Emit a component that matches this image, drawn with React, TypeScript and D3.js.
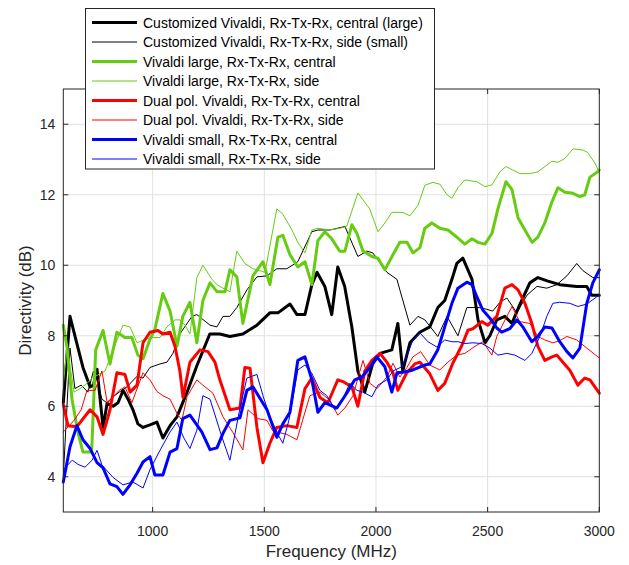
import React from 'react';
import * as d3 from 'd3';

type Pt = [number, number];

// frequency (MHz), directivity (dB)
const customCentral: Pt[] = [
  [600, 6.1], [630, 8.55], [666, 7.65], [688, 7.1], [720, 6.55], [735, 6.6], [751, 7.05], [778, 5.4],
  [796, 6.08], [823, 6.0], [845, 6.1], [868, 6.45], [890, 6.2], [912, 5.9], [934, 5.5], [957, 5.4],
  [988, 5.47], [1019, 5.55], [1046, 5.1], [1078, 5.45], [1109, 5.7], [1154, 6.4], [1198, 7.15],
  [1256, 8.05], [1301, 8.05], [1346, 7.98], [1404, 8.05], [1467, 8.3], [1525, 8.65], [1561, 8.65],
  [1615, 8.9], [1646, 8.6], [1682, 8.6], [1713, 9.45], [1736, 9.8], [1771, 9.4], [1802, 8.6],
  [1829, 9.95], [1860, 9.4], [1892, 8.25], [1919, 7.0], [1950, 6.4], [1985, 7.2], [2018, 7.5],
  [2071, 7.6], [2098, 8.35], [2120, 7.0], [2152, 7.8], [2196, 8.1], [2241, 8.25], [2277, 8.8],
  [2308, 9.0], [2340, 9.6], [2362, 10.05], [2389, 10.2], [2430, 9.6], [2457, 8.45], [2488, 7.8],
  [2510, 8.0], [2541, 8.45], [2577, 8.55], [2609, 8.35], [2645, 8.9], [2689, 9.5], [2725, 9.65],
  [2770, 9.55], [2823, 9.45], [2899, 9.4], [2944, 9.4], [2966, 9.15], [3000, 9.15],
];

const customSide: Pt[] = [
  [600, 4.0], [630, 7.65], [652, 6.5], [680, 6.6], [710, 6.4], [735, 7.0], [751, 6.75], [773, 6.2],
  [795, 6.1], [820, 6.25], [850, 6.4], [885, 6.55], [930, 6.85], [957, 6.8], [988, 7.1], [1033, 7.2],
  [1064, 7.25], [1091, 7.5], [1122, 8.05], [1176, 8.55], [1198, 8.6], [1257, 8.3], [1288, 8.25],
  [1315, 8.55], [1346, 8.55], [1377, 8.8], [1422, 9.3], [1467, 9.67], [1512, 9.7], [1556, 9.9],
  [1601, 9.9], [1650, 10.1], [1713, 10.95], [1740, 11.0], [1794, 11.0], [1861, 11.1], [1919, 10.25],
  [1959, 10.4], [1986, 10.35], [2049, 9.8], [2094, 9.6], [2107, 9.3], [2152, 8.3], [2188, 8.55],
  [2219, 8.45], [2277, 7.98], [2318, 8.55], [2367, 8.0], [2407, 8.8], [2465, 8.8], [2496, 8.75],
  [2523, 8.7], [2555, 8.95], [2586, 9.07], [2631, 8.65], [2676, 9.15], [2721, 9.4], [2765, 9.35],
  [2810, 9.45], [2855, 9.7], [2899, 10.05], [2926, 9.85], [2971, 9.65], [3000, 9.65],
];

const largeCentral: Pt[] = [
  [600, 8.3], [617, 7.65], [639, 6.2], [666, 5.25], [688, 4.7], [727, 4.7], [745, 7.6], [778, 8.15],
  [809, 7.2], [840, 8.1], [876, 7.95], [907, 7.95], [934, 7.45], [957, 7.35], [988, 7.9], [1010, 8.18],
  [1046, 9.2], [1078, 8.7], [1109, 7.7], [1135, 8.55], [1167, 8.95], [1198, 7.8], [1225, 9.0],
  [1257, 9.5], [1288, 9.25], [1324, 9.25], [1346, 9.87], [1377, 9.67], [1404, 8.35], [1449, 9.7],
  [1494, 10.1], [1525, 9.45], [1561, 10.8], [1583, 10.85], [1615, 10.3], [1650, 9.95], [1682, 10.1],
  [1713, 9.45], [1740, 10.7], [1771, 10.95], [1802, 10.75], [1838, 10.4], [1861, 10.4], [1892, 11.15],
  [1915, 10.9], [1942, 10.4], [1982, 10.25], [2009, 10.2], [2040, 9.87], [2076, 10.3], [2107, 10.65],
  [2139, 10.65], [2166, 10.35], [2197, 10.5], [2219, 11.05], [2250, 11.2], [2286, 11.05], [2322, 11.0],
  [2362, 10.8], [2398, 10.6], [2430, 10.75], [2457, 10.65], [2488, 10.6], [2519, 10.9], [2546, 11.6],
  [2582, 12.37], [2609, 12.15], [2636, 11.35], [2676, 10.9], [2699, 10.65], [2725, 10.8], [2756, 11.2],
  [2788, 11.8], [2815, 12.2], [2846, 12.07], [2877, 12.05], [2913, 11.95], [2935, 12.0], [2958, 12.5],
  [2993, 12.65], [3000, 12.7],
];

const largeSide: Pt[] = [
  [600, 6.6], [617, 7.7], [648, 6.4], [675, 6.5], [706, 6.65], [729, 6.8], [787, 7.0], [823, 7.6],
  [867, 8.3], [899, 8.25], [930, 7.8], [966, 7.9], [997, 7.95], [1033, 7.95], [1064, 8.25], [1100, 8.45],
  [1122, 8.45], [1145, 8.3], [1167, 8.05], [1198, 9.65], [1225, 10.0], [1266, 9.6], [1288, 9.45],
  [1315, 9.35], [1346, 9.25], [1377, 10.4], [1413, 10.05], [1449, 9.9], [1480, 9.85], [1503, 9.8],
  [1556, 11.6], [1583, 11.45], [1624, 11.0], [1650, 10.65], [1682, 10.35], [1713, 11.0], [1740, 11.05],
  [1794, 11.0], [1838, 11.05], [1869, 11.1], [1919, 12.05], [1972, 11.6], [2009, 10.95], [2040, 11.2],
  [2071, 11.5], [2121, 11.5], [2152, 11.4], [2188, 11.7], [2219, 12.27], [2255, 12.35], [2286, 12.3],
  [2318, 12.0], [2340, 11.9], [2367, 12.2], [2398, 12.42], [2452, 12.37], [2488, 12.23], [2519, 12.28],
  [2555, 12.65], [2582, 12.8], [2613, 12.7], [2644, 12.6], [2689, 12.6], [2725, 12.65], [2788, 12.95],
  [2815, 12.92], [2846, 13.03], [2882, 13.3], [2926, 13.27], [2948, 13.2], [2980, 12.9], [3000, 12.65],
];

const dualCentral: Pt[] = [
  [600, 6.05], [621, 5.45], [661, 5.42], [720, 5.9], [751, 5.7], [778, 5.2], [809, 5.9], [840, 6.95],
  [876, 6.9], [899, 6.4], [930, 6.6], [957, 7.8], [988, 8.1], [1024, 8.15], [1046, 8.05], [1078, 8.1],
  [1100, 7.7], [1122, 7.0], [1136, 6.25], [1167, 7.25], [1212, 7.6], [1248, 7.55], [1279, 7.25],
  [1301, 6.75], [1346, 5.9], [1391, 5.95], [1413, 7.1], [1436, 7.08], [1467, 5.4], [1494, 4.4],
  [1525, 4.95], [1556, 5.4], [1601, 5.45], [1646, 5.4], [1682, 6.5], [1713, 6.8], [1749, 6.25],
  [1785, 6.1], [1829, 6.75], [1852, 6.7], [1892, 6.55], [1919, 6.0], [1950, 7.0], [1982, 7.3],
  [2018, 7.5], [2049, 7.25], [2076, 6.95], [2098, 6.45], [2138, 6.95], [2174, 7.2], [2197, 7.25],
  [2241, 6.92], [2277, 6.45], [2308, 6.65], [2344, 7.22], [2385, 7.73], [2412, 8.16], [2434, 8.2],
  [2474, 8.4], [2501, 8.3], [2541, 8.55], [2577, 9.35], [2609, 9.45], [2636, 9.3], [2667, 8.92],
  [2698, 8.35], [2725, 7.7], [2756, 7.3], [2788, 7.4], [2810, 7.45], [2837, 7.25], [2868, 7.02],
  [2904, 6.6], [2935, 6.8], [2958, 6.75], [3000, 6.37],
];

const dualSide: Pt[] = [
  [600, 5.27], [648, 5.6], [680, 5.9], [706, 6.45], [742, 6.45], [773, 7.0], [797, 6.08], [850, 6.45],
  [876, 6.55], [907, 6.1], [957, 6.95], [988, 6.75], [1019, 6.42], [1046, 6.3], [1078, 6.2], [1109, 5.8],
  [1131, 5.6], [1154, 6.27], [1198, 6.75], [1225, 6.6], [1270, 6.37], [1315, 5.7], [1360, 5.25],
  [1404, 4.76], [1427, 5.9], [1471, 5.65], [1512, 5.6], [1538, 5.3], [1601, 5.2], [1646, 5.05],
  [1704, 6.3], [1749, 6.4], [1794, 6.17], [1829, 5.75], [1861, 5.95], [1897, 6.3], [1942, 7.3],
  [1973, 6.65], [2005, 6.5], [2049, 6.83], [2076, 7.22], [2107, 6.83], [2139, 7.1], [2165, 7.4],
  [2200, 7.55], [2241, 7.17], [2286, 7.03], [2322, 7.25], [2362, 7.45], [2398, 7.5], [2443, 7.7],
  [2479, 7.83], [2519, 7.45], [2541, 7.98], [2586, 8.55], [2609, 8.83], [2644, 8.4], [2689, 8.35],
  [2725, 7.98], [2756, 7.88], [2792, 7.8], [2820, 7.85], [2855, 7.98], [2899, 7.88], [2944, 7.65],
  [3000, 7.37],
];

const smallCentral: Pt[] = [
  [600, 3.85], [630, 4.85], [661, 5.45], [688, 5.05], [720, 4.8], [751, 4.4], [778, 4.25], [809, 3.8],
  [840, 3.72], [867, 3.5], [899, 3.77], [930, 4.1], [957, 4.42], [988, 4.57], [1010, 4.05], [1046, 4.05],
  [1078, 4.7], [1109, 4.8], [1135, 5.65], [1167, 5.75], [1220, 5.27], [1257, 4.77], [1288, 4.82],
  [1315, 5.23], [1346, 5.6], [1391, 5.67], [1422, 6.45], [1449, 6.55], [1512, 5.9], [1556, 5.12],
  [1583, 5.5], [1615, 5.83], [1650, 7.3], [1682, 7.4], [1713, 6.75], [1740, 5.83], [1771, 6.1],
  [1825, 5.95], [1869, 6.37], [1905, 6.75], [1937, 6.83], [1973, 7.1], [2004, 7.4], [2040, 7.12],
  [2071, 6.4], [2094, 6.95], [2129, 6.97], [2165, 7.03], [2219, 7.17], [2241, 7.2], [2277, 7.6],
  [2308, 8.25], [2340, 8.92], [2367, 9.35], [2407, 9.52], [2430, 9.45], [2452, 9.1], [2479, 8.72],
  [2510, 8.5], [2541, 8.22], [2563, 8.1], [2599, 8.2], [2631, 8.45], [2658, 8.25], [2698, 7.83],
  [2725, 7.98], [2756, 8.25], [2788, 8.22], [2823, 7.83], [2855, 7.55], [2882, 7.37], [2913, 7.65],
  [2944, 8.92], [2971, 9.5], [3000, 9.87],
];

const smallSide: Pt[] = [
  [600, 4.2], [640, 4.47], [666, 4.35], [697, 4.27], [729, 4.47], [751, 4.75], [773, 4.33], [823, 3.98],
  [867, 3.77], [912, 3.85], [957, 3.68], [988, 4.2], [1033, 4.75], [1078, 5.27], [1109, 5.55],
  [1140, 5.1], [1167, 4.8], [1198, 5.32], [1225, 6.3], [1257, 6.2], [1310, 5.13], [1346, 4.47],
  [1391, 5.95], [1422, 6.8], [1467, 6.9], [1494, 6.3], [1525, 5.7], [1561, 5.2], [1583, 4.95],
  [1610, 5.6], [1650, 7.03], [1682, 7.17], [1713, 6.93], [1749, 6.45], [1780, 6.3], [1816, 5.9],
  [1852, 6.22], [1883, 6.65], [1915, 6.45], [1942, 6.4], [1982, 6.27], [2009, 6.6], [2049, 6.75],
  [2076, 7.0], [2116, 7.12], [2143, 7.5], [2165, 7.87], [2197, 8.08], [2233, 7.83], [2273, 7.68],
  [2308, 7.88], [2340, 7.83], [2367, 7.83], [2398, 7.78], [2434, 7.8], [2474, 7.78], [2510, 7.65],
  [2546, 7.45], [2586, 7.5], [2622, 7.45], [2667, 7.3], [2698, 7.5], [2734, 7.98], [2765, 8.55],
  [2792, 8.92], [2823, 8.95], [2868, 8.92], [2904, 8.83], [2944, 8.9], [2988, 9.1], [3000, 9.15],
];

const seriesNames = [
  'Customized Vivaldi, Rx-Tx-Rx, central (large)',
  'Customized Vivaldi, Rx-Tx-Rx, side (small)',
  'Vivaldi large, Rx-Tx-Rx, central',
  'Vivaldi large, Rx-Tx-Rx, side',
  'Dual pol. Vivaldi, Rx-Tx-Rx, central',
  'Dual pol. Vivaldi, Rx-Tx-Rx, side',
  'Vivaldi small, Rx-Tx-Rx, central',
  'Vivaldi small, Rx-Tx-Rx, side',
];
const seriesData = [customCentral, customSide, largeCentral, largeSide, dualCentral, dualSide, smallCentral, smallSide];

const xTicks = [1000, 1500, 2000, 2500, 3000];
const yTicks = [4, 6, 8, 10, 12, 14];

const colors = ['#000000', '#000000', '#66cc11', '#66cc11', '#ff0000', '#ff0000', '#0000ff', '#0000ff'];
const widths = [3, 1, 3, 1, 3, 1, 3, 1];

const W = 629;
const H = 565;
const margin = { top: 89, right: 29.7, bottom: 53, left: 63.3 };
const FONT = '"Liberation Sans", Arial, Helvetica, sans-serif';
const AX = '#262626';

export default function App() {
  const x = d3.scaleLinear().domain([600, 3000]).range([margin.left, W - margin.right]);
  const y = d3.scaleLinear().domain([3, 15]).range([H - margin.bottom, margin.top]);
  const line = d3.line<Pt>().x((d) => x(d[0])).y((d) => y(d[1]));

  const [x0, x1] = x.range();
  const [y0, y1] = y.range();
  const tick = 5;

  // legend
  const lg = { x: 85.5, y: 8.5, w: 349, h: 160.5, row: 19.5 };

  return (
    <svg width={W} height={H} style={{ position: 'absolute', left: 0, top: 0, background: '#fff' }}
      fontFamily={FONT}>
      <rect x={0} y={0} width={W} height={H} fill="#fff" />

      {/* grid */}
      <g stroke="#e1e1e1" strokeWidth={1}>
        {xTicks.filter((t) => t < 3000).map((t) => (
          <line key={'gx' + t} x1={x(t)} x2={x(t)} y1={y0} y2={y1} />
        ))}
        {yTicks.map((t) => (
          <line key={'gy' + t} x1={x0} x2={x1} y1={y(t)} y2={y(t)} />
        ))}
      </g>

      {/* series */}
      <g fill="none" strokeLinejoin="round" strokeLinecap="round">
        {seriesData.map((d, i) => (
          <path key={i} d={line(d) || ''} stroke={colors[i]} strokeWidth={widths[i]} />
        ))}
      </g>

      {/* axes box and ticks */}
      <g stroke={AX} strokeWidth={1} fill="none">
        <rect x={x0} y={y1} width={x1 - x0} height={y0 - y1} />
        {xTicks.map((t) => (
          <g key={'tx' + t}>
            <line x1={x(t)} x2={x(t)} y1={y0} y2={y0 - tick} />
            <line x1={x(t)} x2={x(t)} y1={y1} y2={y1 + tick} />
          </g>
        ))}
        {yTicks.map((t) => (
          <g key={'ty' + t}>
            <line x1={x0} x2={x0 + tick} y1={y(t)} y2={y(t)} />
            <line x1={x1} x2={x1 - tick} y1={y(t)} y2={y(t)} />
          </g>
        ))}
      </g>

      {/* tick labels */}
      <g fill={AX} fontSize={14}>
        {xTicks.map((t) => (
          <text key={'lx' + t} x={x(t)} y={y0 + 24} textAnchor="middle">{t}</text>
        ))}
        {yTicks.map((t) => (
          <text key={'ly' + t} x={x0 - 8} y={y(t) + 5} textAnchor="end">{t}</text>
        ))}
      </g>

      {/* axis labels */}
      <text x={(x0 + x1) / 2} y={557} textAnchor="middle" fontSize={17} fill={AX}>Frequency (MHz)</text>
      <text transform={`translate(31,${(y0 + y1) / 2}) rotate(-90)`} textAnchor="middle" fontSize={17} fill={AX}>
        Directivity (dB)
      </text>

      {/* legend */}
      <g>
        <rect x={lg.x} y={lg.y} width={lg.w} height={lg.h} fill="#fff" stroke={AX} strokeWidth={1} />
        {seriesNames.map((name, i) => {
          const cy = lg.y + 14 + i * lg.row;
          return (
            <g key={name}>
              <line x1={92} x2={137} y1={cy} y2={cy} stroke={colors[i]} strokeWidth={widths[i] === 3 ? 3 : 1.2} />
              <text x={143} y={cy + 5} fontSize={14} fill="#000">{name}</text>
            </g>
          );
        })}
      </g>
    </svg>
  );
}
